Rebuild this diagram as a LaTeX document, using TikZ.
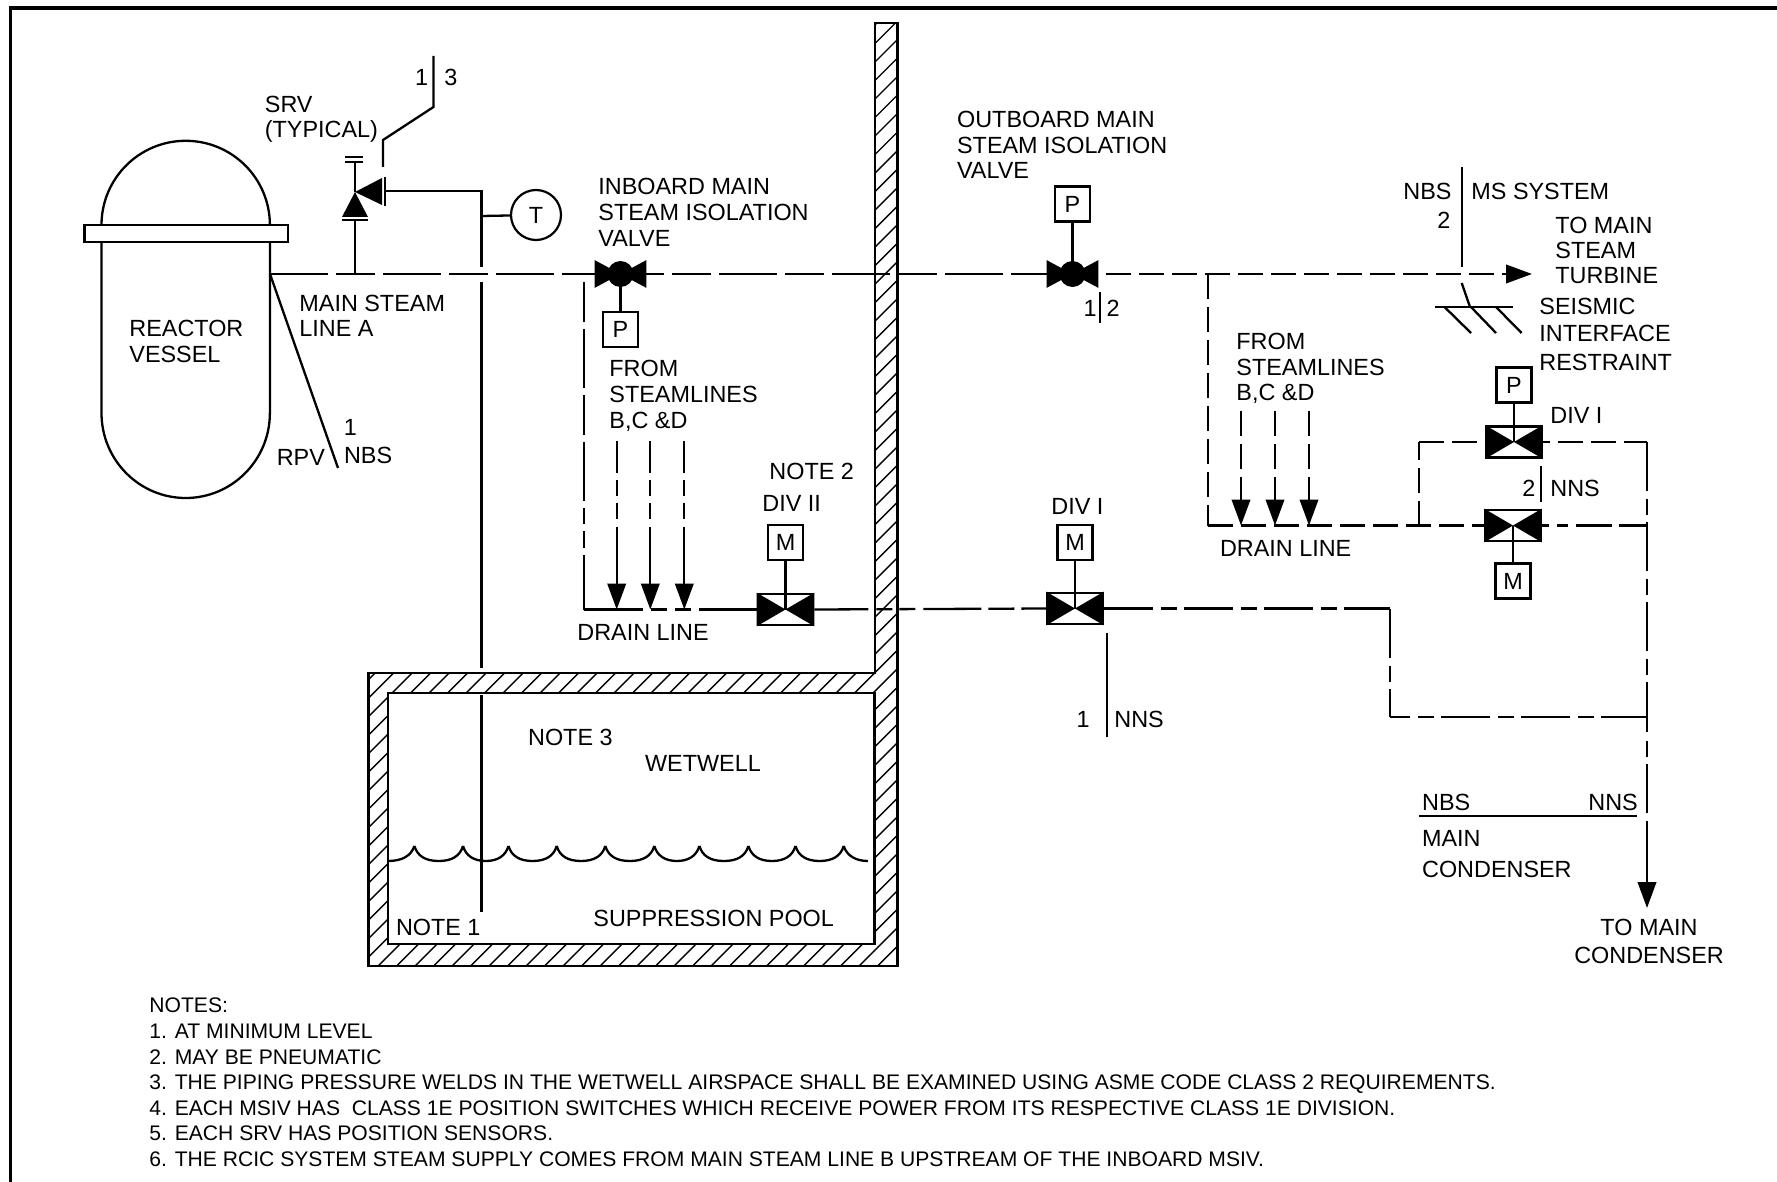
\documentclass[tikz,border=0pt]{standalone}
\usepackage{fontspec}
\setmainfont{Liberation Sans}
\usetikzlibrary{arrows.meta}
\newcommand\lf[1]{\fontsize{11.7}{#1}\selectfont}
\tikzset{
  pipe/.style={line width=1.15pt},
  lab/.style={inner sep=0pt,anchor=base west,align=left,font=\lf{12.75},xshift=-0.5pt},
  labc/.style={inner sep=0pt,anchor=base,align=center,font=\lf{12.75}},
  act/.style={draw,line width=1.1pt,minimum size=17.5pt,inner sep=0pt,font=\lf{13}},
  gatebox/.style={draw,line width=1.3pt,minimum width=27.5pt,minimum height=15.5pt,inner sep=0pt},
  ballbox/.style={minimum width=25.5pt,minimum height=13.5pt,inner sep=0pt},
  dA/.style={dash pattern=on 29pt off 4pt on 19.5pt off 4pt},
  dB/.style={dash pattern=on 12.5pt off 4pt},
  dC/.style={dash pattern=on 24.5pt off 4pt on 8pt off 3.5pt},
  arr/.style={-{Triangle[length=13pt,width=9.25pt]}},
  hatchline/.style={line width=.7pt}
}
\newcommand\gatevalve[2]{%
  \node[gatebox] (#1) at (#2) {};
  \fill (#1.north west) -- (#1.center) -- (#1.south west) -- cycle;
  \fill (#1.north east) -- (#1.center) -- (#1.south east) -- cycle;
}
\newcommand\ballvalve[2]{%
  \node[ballbox] (#1) at (#2) {};
  \fill (#1.north west) -- (#1.center) -- (#1.south west) -- cycle;
  \fill (#1.north east) -- (#1.center) -- (#1.south east) -- cycle;
  \fill (#1.center) circle (6.5pt);
}
\begin{document}
\begin{tikzpicture}[x=0.5pt,y=-0.5pt]
\useasboundingbox (0,0) rectangle (1777,1182);
% frame
\draw[line width=1.75pt] (10.5,1182) -- (10.5,8) -- (1777,8);

% wall hatching
\begin{scope}
  \clip (875,23) -- (897.5,23) -- (897.5,966) -- (368.5,966) -- (368.5,673) -- (875,673) -- cycle;
  \foreach \c in {900,918.5,...,1880}{
    \draw[hatchline] (\c,0) -- (0,\c);
  }
\end{scope}
\fill[white] (388,693) rectangle (874.5,944);
\draw[line width=1.1pt] (875,673) -- (875,23) -- (897.5,23) -- (897.5,966) -- (368.5,966) -- (368.5,673) -- cycle;
\draw[line width=1.4pt] (388,693) rectangle (874.5,944);

% water surface
\draw[pipe] (388,861) .. controls (402,861) and (411,856) .. (414.4,846);
\foreach \a/\b in {414.4/463,463/508.5,508.5/556.7,556.7/605.3,605.3/654.3,654.3/699.4,699.4/748.4,748.4/795.5,795.5/843.7}{
  \draw[pipe] (\a,846) .. controls ({\a+3},856) and ({\a+11},861) .. ({(\a+\b)/2},861)
    .. controls ({\b-11},861) and ({\b-3},856) .. (\b,846);
}
\draw[pipe] (843.7,846) .. controls (847,856) and (856,861) .. (868,861);

% reactor vessel
\draw[pipe] (101.5,225) arc[start angle=180,end angle=0,radius=42.1pt];
\draw[pipe] (101.5,242) -- (101.5,413) arc[start angle=180,end angle=360,x radius=42.1pt,y radius=42.5pt] -- (270,242);
\draw[pipe] (84.5,225) rectangle (288,242);

% named points
\coordinate (ms0) at (270,274);
\coordinate (srv) at (355,192);
\coordinate (srvtop) at (355,162);
\coordinate (srvin) at (355,220);
\coordinate (msj) at (355,274);
\coordinate (rpvend) at (338,468);
\coordinate (sbar) at (385,191);
\coordinate (rc) at (481.5,191);
\coordinate (rt) at (481.5,216);
\coordinate (r1) at (481.5,267);
\coordinate (r2) at (481.5,282);
\coordinate (r3) at (481.5,668);
\coordinate (r4) at (481.5,695);
\coordinate (r5) at (481.5,912);
\coordinate (o1) at (383,167);
\coordinate (o2) at (383,140);
\coordinate (o3) at (433.5,107);
\coordinate (o4) at (433.5,56);

% SRV
\fill (srv) -- (368,217) -- (342,217) -- cycle;
\fill (srv) -- (382,178) -- (382,205) -- cycle;
\draw[pipe] (342,220) -- (368,220);
\draw[pipe] (345,157) -- (363,157) (345,162) -- (363,162);
\draw[line width=1.3pt] (385,177) -- (385,206);
\draw[pipe] (msj) -- (srvin);
\draw[pipe] (srv) -- (srvtop);
\draw[pipe] (o1) -- (o2) -- (o3) -- (o4);
\node[draw,circle,line width=1.1pt,minimum size=25pt,inner sep=0pt,font=\lf{13}] (tc) at (536,215) {T};
\draw[pipe] (sbar) -- (rc) -- (r1);
\draw[pipe] (rt) -- (tc);
\draw[pipe] (r2) -- (r3);
\draw[pipe] (r4) -- (r5);
\draw[pipe] (ms0) -- (rpvend);

% valves
\ballvalve{v1}{620.5,274}
\ballvalve{v2}{1072.5,274}
\gatevalve{v3}{785.5,609.5}
\gatevalve{v4}{1075,608.5}
\gatevalve{v5}{1514,442}
\gatevalve{v6}{1513,525.5}
\node[act] (p1) at (620.5,329.5) {P};
\node[act] (p2) at (1072.5,204) {P};
\node[act] (p3) at (1514,385) {P};
\node[act] (m1) at (785.5,542.5) {M};
\node[act] (m2) at (1075,542.5) {M};
\node[act] (m3) at (1513,581) {M};
\draw[pipe] (v1.center) -- (p1);
\draw[pipe] (v2.center) -- (p2);
\draw[pipe] (v3.center) -- (m1);
\draw[pipe] (v4.center) -- (m2);
\draw[pipe] (v5.center) -- (p3);
\draw[pipe] (v6.center) -- (m3);

% main steam line
\coordinate (turb) at (1532,274);
\draw[pipe,dA] (ms0) -- (v1.west);
\draw[pipe,dA,dash phase=20pt] (v1.east) -- (v2.west);
\draw[pipe,dB,dash phase=12.5pt,arr] (v2.east) -- (turb);

% inboard drain
\coordinate (d0) at (584,282);
\coordinate (d1) at (584,609.5);
\draw[pipe,dash pattern=on 20pt off 3.5pt on 29.5pt off 3.5pt on 20pt off 3.5pt on 29.5pt off 3.5pt on 8pt off 3.5pt on 8.5pt off 3.5pt on 30pt] (d0) -- (d1);
\draw[pipe,dash pattern=on 29.5pt off 4pt on 8pt off 4pt on 8pt off 4pt on 29pt] (d1) -- (v3.west);
\foreach \n/\x in {a/616.7,b/650.3,c/684.3}{
  \coordinate (s\n) at (\x,441);
  \coordinate (e\n) at (\x,609.5);
  \draw[pipe,arr,dash pattern=on 16pt off 3.5pt on 8pt off 3.5pt on 8pt off 4pt on 50pt] (s\n) -- (e\n);
}

% line through containment to main condenser
\coordinate (c1) at (1390.3,608.5);
\coordinate (c2) at (1390.3,717);
\coordinate (c3) at (1647,717);
\draw[pipe,dash pattern=on 27pt off 4pt on 8pt off 3.5pt on 8pt off 4pt on 29pt off 3.5pt on 13pt off 3.5pt on 14pt] (v3.east) -- (v4.west);
\draw[pipe,dC] (v4.east) -- (c1);
\draw[pipe,dC] (c1) -- (c2);
\draw[pipe,dC,dash phase=14.5pt] (c2) -- (c3);

% outboard drain
\coordinate (e0) at (1208,274);
\coordinate (e1) at (1208,525.5);
\coordinate (e2) at (1419,525.5);
\coordinate (e3) at (1419,442);
\coordinate (f1) at (1647,442);
\coordinate (f2) at (1647,525.5);
\coordinate (f3) at (1647,813);
\coordinate (f4) at (1647,821);
\coordinate (f5) at (1647,908);
\draw[pipe,dB] (e0) -- (e1);
\draw[pipe,dB] (e1) -- (v6.west);
\draw[pipe,dB] (e2) -- (e3);
\draw[pipe,dB] (e3) -- (v5.west);
\draw[pipe,dB,dash phase=9pt] (v5.east) -- (f1);
\draw[pipe,dash pattern=on 3.5pt off 4pt on 5.5pt off 4pt on 18pt off 3.5pt on 15pt] (v6.east) -- (f2);
\draw[pipe,dash pattern=on 24.5pt off 4pt on 8pt off 3.5pt on 24.5pt off 4pt on 8pt off 3.5pt on 24.5pt off 4pt on 8pt off 3.5pt on 25pt off 4.5pt on 8pt off 3.5pt on 24.5pt] (f1) -- (f3);
\draw[pipe,arr] (f4) -- (f5);
\foreach \n/\x in {g/1241,h/1275,i/1309}{
  \coordinate (s\n) at (\x,411);
  \coordinate (e\n) at (\x,525.5);
  \draw[pipe,arr,dash pattern=on 12.5pt off 4pt on 12.5pt off 4pt on 30pt] (s\n) -- (e\n);
}

% boundary bars
\coordinate (b1) at (1461.7,167);
\coordinate (b2) at (1461.7,266.7);
\coordinate (b3) at (1461.7,283);
\coordinate (b4) at (1470,307);
\draw[pipe] (b1) -- (b2);
\draw[pipe] (b3) -- (b4);
\draw[pipe] (1435,307) -- (1513,307);
\draw[pipe] (1444.5,307) -- (1471,333) (1471,307) -- (1496,333) (1496,307) -- (1521.6,333);
\draw[pipe] (1100,292) -- (1100,323);
\draw[pipe] (1541,466) -- (1541,502);
\draw[pipe] (1106.7,633) -- (1106.7,737);
\draw[pipe] (1419,816) -- (1637,816);

% labels
\node[labc] (t13a) at (421.6,86) {1};
\node[labc] (t13b) at (451,86) {3};
\node[lab,font=\lf{12.5}] (tsrv) at (265.5,138) {SRV\\(TYPICAL)};
\node[lab,font=\lf{13}] (trv) at (130,362) {REACTOR\\VESSEL};
\node[lab,font=\lf{12.5}] (tms) at (300,336) {MAIN STEAM\\LINE A};
\node[labc] (trp1) at (350.5,435) {1};
\node[lab] (tnbs) at (344.6,463) {NBS};
\node[lab] (trpv) at (277.4,465) {RPV};
\node[lab,font=\lf{13}] (tib) at (599,246.5) {INBOARD MAIN\\STEAM ISOLATION\\VALVE};
\node[lab,font=\lf{13}] (tfl) at (610,428) {FROM\\STEAMLINES\\B,C \&D};
\node[lab] (tn2) at (770,479) {NOTE 2};
\node[lab] (tdv2) at (763,511) {DIV II};
\node[lab] (tdv1) at (1052,514) {DIV I};
\node[labc] (tc1) at (1083,727) {1};
\node[lab] (tnn1) at (1115,727) {NNS};
\node[lab] (tob) at (957.7,179) {OUTBOARD MAIN\\STEAM ISOLATION\\VALVE};
\node[labc] (t12a) at (1090,316) {1};
\node[labc] (t12b) at (1113,316) {2};
\node[lab] (tnb2) at (1404,200) {NBS};
\node[lab] (tmss) at (1472,200) {MS SYSTEM};
\node[lab] (t2) at (1438,229) {2};
\node[lab,font=\lf{12.5}] (ttm) at (1556,284) {TO MAIN\\STEAM\\TURBINE};
\node[lab,font=\lf{14}] (tsir) at (1540,370) {SEISMIC\\INTERFACE\\RESTRAINT};
\node[lab] (tfr) at (1237,400.5) {FROM\\STEAMLINES\\B,C \&D};
\node[lab] (tdvr) at (1551,423) {DIV I};
\node[lab] (t2r) at (1523,496) {2};
\node[lab] (tnnr) at (1551,496) {NNS};
\node[lab] (tdlr) at (1220.6,556) {DRAIN LINE};
\node[lab] (tdll) at (578,640) {DRAIN LINE};
\node[lab] (tnbb) at (1422.7,810) {NBS};
\node[lab] (tnnb) at (1589,810) {NNS};
\node[lab,font=\lf{15.5}] (tmc) at (1422.7,877) {MAIN\\CONDENSER};
\node[labc,font=\lf{14}] (ttc) at (1649,963) {TO MAIN\\CONDENSER};
\node[lab] (tn3) at (528.7,745) {NOTE 3};
\node[lab] (twet) at (645.7,771) {WETWELL};
\node[lab] (tn1) at (396.6,935) {NOTE 1};
\node[lab] (tsp) at (594,926) {SUPPRESSION POOL};
\node[lab,font=\fontsize{10.55}{12.8}\selectfont] (tnotes) at (150,1166.5) {NOTES:\\
1. AT MINIMUM LEVEL\\
2. MAY BE PNEUMATIC\\
3. THE PIPING PRESSURE WELDS IN THE WETWELL AIRSPACE SHALL BE EXAMINED USING ASME CODE CLASS 2 REQUIREMENTS.\\
4. EACH MSIV HAS\ \ CLASS 1E POSITION SWITCHES WHICH RECEIVE POWER FROM ITS RESPECTIVE CLASS 1E DIVISION.\\
5. EACH SRV HAS POSITION SENSORS.\\
6. THE RCIC SYSTEM STEAM SUPPLY COMES FROM MAIN STEAM LINE B UPSTREAM OF THE INBOARD MSIV.};
\end{tikzpicture}
\end{document}
